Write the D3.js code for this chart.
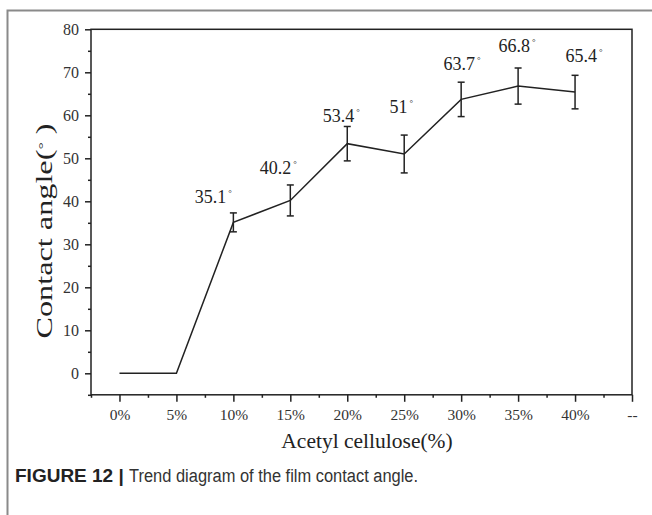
<!DOCTYPE html>
<html>
<head>
<meta charset="utf-8">
<script src="https://cdn.jsdelivr.net/npm/d3@7/dist/d3.min.js"></script>
<style>
  html, body { margin: 0; padding: 0; background: #fff; }
  svg { display: block; }
</style>
</head>
<body>
<svg id="chart" width="652" height="515"></svg>
<script>
// Contact angle of the film versus acetyl cellulose content
const categories = ["0%", "5%", "10%", "15%", "20%", "25%", "30%", "35%", "40%", "--"];
const angles     = [0, 0, 35.1, 40.2, 53.4, 51, 63.7, 66.8, 65.4];
const errors     = [null, null, 2.2, 3.6, 4.0, 4.4, 4.0, 4.2, 3.9];
const valueLabels = ["", "", "35.1", "40.2", "53.4", "51", "63.7", "66.8", "65.4"];
const yTicks = [0, 10, 20, 30, 40, 50, 60, 70, 80];
const yMinorTicks = [-5, 5, 15, 25, 35, 45, 55, 65, 75];

// hand-placed label nudges (dx from point, dy from error-bar top), in px
const labelNudge = [null, null, [-20, -10], [-12, -11], [-6, -4], [-3, -22], [1, -12], [-1, -16], [9, -13]];

const svg = d3.select("#chart");
const serif = "'Liberation Serif', 'Times New Roman', serif";
const ink = "#222";

// outer figure frame (top and left edges only)
svg.append("path")
  .attr("d", "M7.5,515 V10.5 H652")
  .attr("fill", "none").attr("stroke", "#8a8a8a").attr("stroke-width", 2);

const plotL = 91, plotR = 632, plotT = 29.3, plotB = 394.8;
const x = d3.scaleLinear().domain([-0.5, 9]).range([plotL, plotR]);
const y = d3.scaleLinear().domain([-5, 80]).range([plotB, plotT]);

const g = svg.append("g");

// plot box
g.append("rect")
  .attr("x", plotL).attr("y", plotT)
  .attr("width", plotR - plotL).attr("height", plotB - plotT)
  .attr("fill", "none").attr("stroke", ink).attr("stroke-width", 1.5);

function styleTicks(sel) {
  sel.select(".domain").remove();
  sel.attr("font-family", null).attr("font-size", null);
  sel.selectAll(".tick line").attr("stroke", ink).attr("stroke-width", 1.5);
  sel.selectAll(".tick text")
    .style("font-family", serif).style("font-size", "15.5px").attr("fill", "#333");
}

// y axis
const ya = g.append("g").attr("transform", `translate(${plotL},0)`)
  .call(d3.axisLeft(y).tickValues(yTicks).tickSize(6).tickPadding(6));
styleTicks(ya);
ya.selectAll(".tick text").style("font-size", "16px");
const yMinor = g.append("g").attr("transform", `translate(${plotL},0)`)
  .call(d3.axisLeft(y).tickValues(yMinorTicks).tickSize(3).tickFormat(""));
styleTicks(yMinor);

// x axis
const xa = g.append("g").attr("transform", `translate(0,${plotB})`)
  .call(d3.axisBottom(x).tickValues(d3.range(categories.length))
    .tickFormat(i => categories[i]).tickSize(7).tickPadding(7));
styleTicks(xa);
const xMinor = g.append("g").attr("transform", `translate(0,${plotB})`)
  .call(d3.axisBottom(x).tickValues(d3.range(-0.5, 9, 1)).tickSize(3).tickFormat(""));
styleTicks(xMinor);

// axis titles
svg.append("text")
  .attr("x", 367).attr("y", 448)
  .attr("text-anchor", "middle")
  .style("font-family", serif).style("font-size", "21.5px").attr("fill", ink)
  .text("Acetyl cellulose(%)");

const yt = svg.append("text")
  .attr("transform", "translate(52,231) rotate(-90)")
  .attr("text-anchor", "middle")
  .attr("textLength", 215).attr("lengthAdjust", "spacingAndGlyphs")
  .style("font-family", serif).style("font-size", "23px").attr("fill", ink);
yt.append("tspan").text("Contact angle(");
yt.append("tspan").style("font-size", "13px").attr("dy", -5).text("°");
yt.append("tspan").attr("dy", 5).text(" )");

// data line
const pts = angles.map((v, i) => [i, v]);
g.append("path")
  .datum(pts)
  .attr("d", d3.line().x(d => x(d[0])).y(d => y(d[1])))
  .attr("fill", "none").attr("stroke", ink).attr("stroke-width", 1.5);

// error bars
const cap = 3.5;
const eb = g.append("g").attr("stroke", ink).attr("stroke-width", 1.5).attr("fill", "none");
angles.forEach((v, i) => {
  const e = errors[i];
  if (e == null) return;
  const cx = x(i), y1 = y(v + e), y0 = y(v - e);
  eb.append("line").attr("x1", cx).attr("x2", cx).attr("y1", y1).attr("y2", y0);
  eb.append("line").attr("x1", cx - cap).attr("x2", cx + cap).attr("y1", y1).attr("y2", y1);
  eb.append("line").attr("x1", cx - cap).attr("x2", cx + cap).attr("y1", y0).attr("y2", y0);
});

// value labels with a small degree mark
angles.forEach((v, i) => {
  if (!valueLabels[i]) return;
  const [dx, dy] = labelNudge[i];
  const t = g.append("text")
    .attr("x", x(i) + dx).attr("y", y(v + errors[i]) + dy)
    .attr("text-anchor", "middle")
    .style("font-family", serif).style("font-size", "18px").attr("fill", ink);
  t.append("tspan").text(valueLabels[i]);
  t.append("tspan").style("font-size", "9px").attr("dx", 2).attr("dy", -7).text("°");
});

// figure caption
const caption = svg.append("text")
  .attr("x", 15).attr("y", 482)
  .style("font-size", "18px").attr("fill", "#222");
caption.append("tspan").style("font-family", "'Liberation Sans', Arial, sans-serif")
  .style("font-size", "19px").style("font-weight", "bold").text("FIGURE 12 | ");
caption.append("tspan")
  .style("font-family", "'Liberation Sans', Arial, sans-serif").attr("fill", "#333")
  .attr("textLength", 289).attr("lengthAdjust", "spacingAndGlyphs")
  .text("Trend diagram of the film contact angle.");
</script>
</body>
</html>
